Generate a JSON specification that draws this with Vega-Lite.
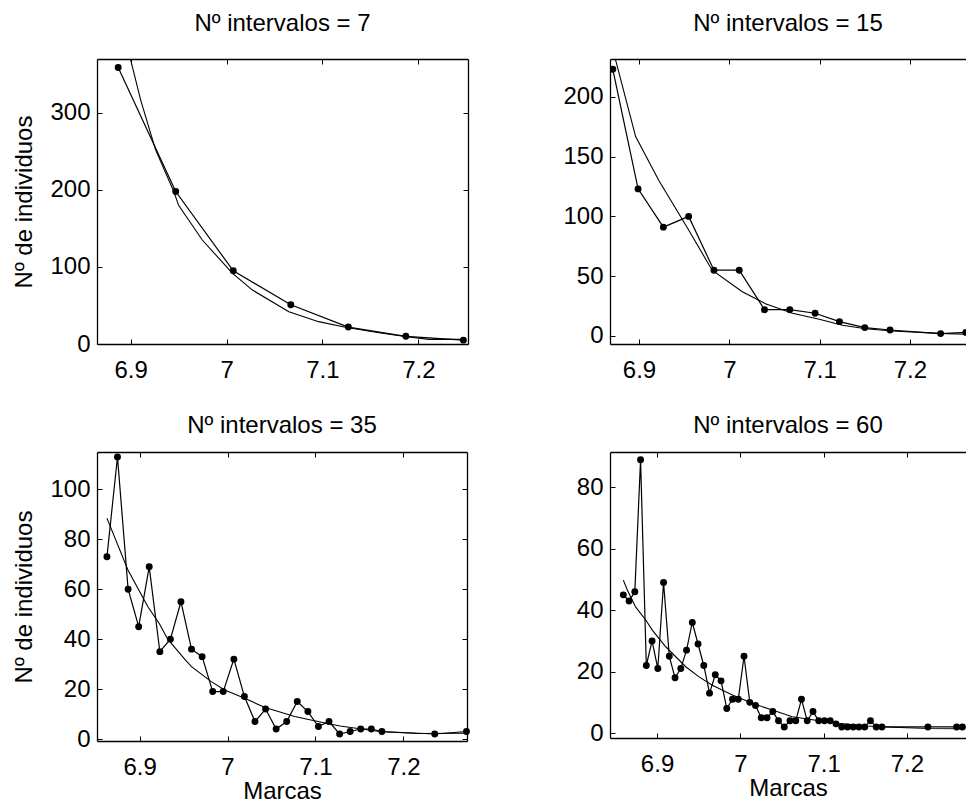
{
  "$schema": "https://vega.github.io/schema/vega-lite/v6.json",
  "padding": {"left": 12, "top": 11, "right": 0, "bottom": 0},
  "background": "white",
  "config": {
    "font": "Liberation Sans",
    "view": {"stroke": null},
    "axis": {
      "grid": false,
      "domainColor": "black",
      "domainWidth": 1.3,
      "tickColor": "black",
      "tickWidth": 1,
      "tickSize": -5,
      "labelFont": "Liberation Sans",
      "labelFontSize": 24,
      "labelColor": "black",
      "labelFlush": false,
      "labelOverlap": false,
      "titleFont": "Liberation Sans",
      "titleFontSize": 24,
      "titleFontWeight": "normal",
      "titleColor": "black"
    },
    "title": {"font": "Liberation Sans", "fontSize": 24, "fontWeight": "normal", "color": "black", "baseline": "alphabetic", "anchor": "middle"}
  },
  "datasets": {
    "p1": [
      {"x": 6.887, "y": 359}, {"x": 6.947, "y": 198}, {"x": 7.007, "y": 95}, {"x": 7.067, "y": 51},
      {"x": 7.127, "y": 22}, {"x": 7.187, "y": 10}, {"x": 7.247, "y": 5}
    ],
    "f1": [
      {"x": 6.9, "y": 369}, {"x": 6.9104, "y": 317}, {"x": 6.926, "y": 252}, {"x": 6.945, "y": 198},
      {"x": 6.95, "y": 180}, {"x": 6.9747, "y": 135}, {"x": 7.006, "y": 92}, {"x": 7.027, "y": 70},
      {"x": 7.065, "y": 42}, {"x": 7.096, "y": 29}, {"x": 7.124, "y": 21.7}, {"x": 7.159, "y": 14.7},
      {"x": 7.188, "y": 9.5}, {"x": 7.211, "y": 6}, {"x": 7.247, "y": 6}
    ],
    "p2": [
      {"x": 6.871, "y": 223}, {"x": 6.899, "y": 123}, {"x": 6.927, "y": 91}, {"x": 6.955, "y": 100},
      {"x": 6.983, "y": 55}, {"x": 7.011, "y": 55}, {"x": 7.039, "y": 22}, {"x": 7.067, "y": 22},
      {"x": 7.095, "y": 19}, {"x": 7.122, "y": 12}, {"x": 7.15, "y": 7}, {"x": 7.178, "y": 5},
      {"x": 7.234, "y": 2}, {"x": 7.262, "y": 3}
    ],
    "f2": [
      {"x": 6.874, "y": 231}, {"x": 6.8963, "y": 166.7}, {"x": 6.922, "y": 130}, {"x": 6.955, "y": 88.6},
      {"x": 6.981, "y": 55}, {"x": 7.0144, "y": 37}, {"x": 7.04, "y": 27}, {"x": 7.07, "y": 19},
      {"x": 7.0996, "y": 14}, {"x": 7.1254, "y": 9}, {"x": 7.151, "y": 6}, {"x": 7.1805, "y": 4.2},
      {"x": 7.232, "y": 2.2}, {"x": 7.261, "y": 1.4}
    ],
    "p3": [
      {"x": 6.8628, "y": 73}, {"x": 6.8748, "y": 113}, {"x": 6.8869, "y": 60}, {"x": 6.8989, "y": 45},
      {"x": 6.9109, "y": 69}, {"x": 6.923, "y": 35}, {"x": 6.935, "y": 40}, {"x": 6.947, "y": 55},
      {"x": 6.959, "y": 36}, {"x": 6.9711, "y": 33}, {"x": 6.9831, "y": 19}, {"x": 6.9951, "y": 19},
      {"x": 7.0072, "y": 32}, {"x": 7.0192, "y": 17}, {"x": 7.0312, "y": 7}, {"x": 7.0433, "y": 12},
      {"x": 7.0553, "y": 4}, {"x": 7.0673, "y": 7}, {"x": 7.0793, "y": 15}, {"x": 7.0914, "y": 11},
      {"x": 7.1034, "y": 5}, {"x": 7.1154, "y": 7}, {"x": 7.1275, "y": 2}, {"x": 7.1395, "y": 3},
      {"x": 7.1515, "y": 4}, {"x": 7.1636, "y": 4}, {"x": 7.1756, "y": 3}, {"x": 7.2357, "y": 2},
      {"x": 7.2718, "y": 3}
    ],
    "f3": [
      {"x": 6.8628, "y": 88.5}, {"x": 6.8867, "y": 67.7}, {"x": 6.9094, "y": 53}, {"x": 6.9228, "y": 46},
      {"x": 6.932, "y": 40}, {"x": 6.9512, "y": 32}, {"x": 6.959, "y": 29}, {"x": 6.9815, "y": 23},
      {"x": 6.9967, "y": 19.6}, {"x": 7.0195, "y": 16.3}, {"x": 7.042, "y": 12.7}, {"x": 7.0763, "y": 9},
      {"x": 7.1028, "y": 7}, {"x": 7.128, "y": 5.2}, {"x": 7.1749, "y": 2.9}, {"x": 7.2166, "y": 2.2},
      {"x": 7.2697, "y": 2.3}
    ],
    "p4": [
      {"x": 6.8595, "y": 45}, {"x": 6.8664, "y": 43}, {"x": 6.8733, "y": 46}, {"x": 6.8802, "y": 89},
      {"x": 6.8871, "y": 22}, {"x": 6.894, "y": 30}, {"x": 6.9009, "y": 21}, {"x": 6.9078, "y": 49},
      {"x": 6.9147, "y": 25}, {"x": 6.9216, "y": 18}, {"x": 6.9285, "y": 21}, {"x": 6.9354, "y": 27},
      {"x": 6.9423, "y": 36}, {"x": 6.9492, "y": 29}, {"x": 6.9561, "y": 22}, {"x": 6.963, "y": 13},
      {"x": 6.9699, "y": 19}, {"x": 6.9768, "y": 17}, {"x": 6.9837, "y": 8}, {"x": 6.9906, "y": 11},
      {"x": 6.9975, "y": 11}, {"x": 7.0044, "y": 25}, {"x": 7.0113, "y": 10}, {"x": 7.0182, "y": 9},
      {"x": 7.0251, "y": 5}, {"x": 7.032, "y": 5}, {"x": 7.0389, "y": 7}, {"x": 7.0458, "y": 4},
      {"x": 7.0527, "y": 2}, {"x": 7.0596, "y": 4}, {"x": 7.0665, "y": 4}, {"x": 7.0734, "y": 11},
      {"x": 7.0803, "y": 4}, {"x": 7.0872, "y": 7}, {"x": 7.0941, "y": 4}, {"x": 7.101, "y": 4},
      {"x": 7.1079, "y": 4}, {"x": 7.1148, "y": 3}, {"x": 7.1217, "y": 2}, {"x": 7.1286, "y": 2},
      {"x": 7.1355, "y": 2}, {"x": 7.1424, "y": 2}, {"x": 7.1493, "y": 2}, {"x": 7.1562, "y": 4},
      {"x": 7.1631, "y": 2}, {"x": 7.17, "y": 2}, {"x": 7.2252, "y": 2}, {"x": 7.2597, "y": 2},
      {"x": 7.2666, "y": 2}
    ],
    "f4": [
      {"x": 6.8595, "y": 49.8}, {"x": 6.8643, "y": 46.6}, {"x": 6.8744, "y": 41}, {"x": 6.8864, "y": 36.8},
      {"x": 6.8943, "y": 33.5}, {"x": 6.9104, "y": 28.1}, {"x": 6.9344, "y": 21.6}, {"x": 6.9504, "y": 18.3},
      {"x": 6.9663, "y": 15.6}, {"x": 6.9904, "y": 12.4}, {"x": 7.0144, "y": 9.7}, {"x": 7.0384, "y": 7.5},
      {"x": 7.0624, "y": 5.3}, {"x": 7.0905, "y": 4.2}, {"x": 7.1184, "y": 3.2}, {"x": 7.1505, "y": 2.3},
      {"x": 7.1824, "y": 1.9}, {"x": 7.2265, "y": 1.5}, {"x": 7.2665, "y": 1.4}
    ]
  },
  "columns": 2,
  "spacing": {"row": 104, "column": 142},
  "bounds": "flush",
  "align": "all",
  "concat": [
    {
      "width": 371, "height": 285,
      "title": {"text": "Nº intervalos = 7", "offset": 23},
      "resolve": {"scale": {"x": "independent", "y": "independent"}, "axis": {"x": "independent", "y": "independent"}},
      "layer": [
        {
          "data": {"name": "p1"},
          "mark": {"type": "line", "color": "black", "strokeWidth": 1.2, "point": {"filled": true, "color": "black", "size": 48, "opacity": 1}},
          "encoding": {
            "x": {"field": "x", "type": "quantitative", "scale": {"domain": [6.8649, 7.2518], "nice": false, "zero": false},
                  "axis": {"orient": "bottom", "values": [6.9, 7, 7.1, 7.2], "format": "~g", "labelPadding": 19, "title": null}},
            "y": {"field": "y", "type": "quantitative", "scale": {"domain": [0, 370], "nice": false, "zero": false},
                  "axis": {"orient": "left", "values": [0, 100, 200, 300], "labelPadding": 12, "title": "Nº de individuos", "titlePadding": 13}}
          }
        },
        {
          "data": {"name": "f1"},
          "mark": {"type": "line", "color": "black", "strokeWidth": 1.1, "clip": true},
          "encoding": {
            "x": {"field": "x", "type": "quantitative", "scale": {"domain": [6.8649, 7.2518], "nice": false, "zero": false},
                  "axis": {"orient": "top", "values": [6.9, 7, 7.1, 7.2], "labels": false, "title": null}},
            "y": {"field": "y", "type": "quantitative", "scale": {"domain": [0, 370], "nice": false, "zero": false},
                  "axis": {"orient": "right", "values": [0, 100, 200, 300], "labels": false, "title": null}}
          }
        }
      ]
    },
    {
      "width": 356, "height": 285,
      "title": {"text": "Nº intervalos = 15", "offset": 23},
      "resolve": {"scale": {"x": "independent", "y": "independent"}, "axis": {"x": "independent", "y": "independent"}},
      "layer": [
        {
          "data": {"name": "p2"},
          "mark": {"type": "line", "color": "black", "strokeWidth": 1.2, "clip": true, "point": {"filled": true, "color": "black", "size": 48, "opacity": 1}},
          "encoding": {
            "x": {"field": "x", "type": "quantitative", "scale": {"domain": [6.8679, 7.2621], "nice": false, "zero": false},
                  "axis": {"orient": "bottom", "values": [6.9, 7, 7.1, 7.2], "format": "~g", "labelPadding": 19, "title": null}},
            "y": {"field": "y", "type": "quantitative", "scale": {"domain": [-6.7, 231.6], "nice": false, "zero": false},
                  "axis": {"orient": "left", "values": [0, 50, 100, 150, 200], "labelPadding": 12, "title": null}}
          }
        },
        {
          "data": {"name": "f2"},
          "mark": {"type": "line", "color": "black", "strokeWidth": 1.1, "clip": true},
          "encoding": {
            "x": {"field": "x", "type": "quantitative", "scale": {"domain": [6.8679, 7.2621], "nice": false, "zero": false},
                  "axis": {"orient": "top", "values": [6.9, 7, 7.1, 7.2], "labels": false, "title": null}},
            "y": {"field": "y", "type": "quantitative", "scale": {"domain": [-6.7, 231.6], "nice": false, "zero": false}, "axis": null}
          }
        }
      ]
    },
    {
      "width": 370, "height": 289,
      "title": {"text": "Nº intervalos = 35", "offset": 14},
      "resolve": {"scale": {"x": "independent", "y": "independent"}, "axis": {"x": "independent", "y": "independent"}},
      "layer": [
        {
          "data": {"name": "p3"},
          "mark": {"type": "line", "color": "black", "strokeWidth": 1.2, "point": {"filled": true, "color": "black", "size": 48, "opacity": 1}},
          "encoding": {
            "x": {"field": "x", "type": "quantitative", "scale": {"domain": [6.8515, 7.2724], "nice": false, "zero": false},
                  "axis": {"orient": "bottom", "values": [6.9, 7, 7.1, 7.2], "format": "~g", "labelPadding": 19, "title": "Marcas", "titlePadding": 0}},
            "y": {"field": "y", "type": "quantitative", "scale": {"domain": [-0.8, 115], "nice": false, "zero": false},
                  "axis": {"orient": "left", "values": [0, 20, 40, 60, 80, 100], "labelPadding": 12, "title": "Nº de individuos", "titlePadding": 13}}
          }
        },
        {
          "data": {"name": "f3"},
          "mark": {"type": "line", "color": "black", "strokeWidth": 1.1, "clip": true},
          "encoding": {
            "x": {"field": "x", "type": "quantitative", "scale": {"domain": [6.8515, 7.2724], "nice": false, "zero": false},
                  "axis": {"orient": "top", "values": [6.9, 7, 7.1, 7.2], "labels": false, "title": null}},
            "y": {"field": "y", "type": "quantitative", "scale": {"domain": [-0.8, 115], "nice": false, "zero": false},
                  "axis": {"orient": "right", "values": [0, 20, 40, 60, 80, 100], "labels": false, "title": null}}
          }
        }
      ]
    },
    {
      "width": 356, "height": 286,
      "title": {"text": "Nº intervalos = 60", "offset": 14},
      "resolve": {"scale": {"x": "independent", "y": "independent"}, "axis": {"x": "independent", "y": "independent"}},
      "layer": [
        {
          "data": {"name": "p4"},
          "mark": {"type": "line", "color": "black", "strokeWidth": 1.2, "clip": true, "point": {"filled": true, "color": "black", "size": 48, "opacity": 1}},
          "encoding": {
            "x": {"field": "x", "type": "quantitative", "scale": {"domain": [6.8435, 7.2709], "nice": false, "zero": false},
                  "axis": {"orient": "bottom", "values": [6.9, 7, 7.1, 7.2], "format": "~g", "labelPadding": 19, "title": "Marcas", "titlePadding": 0}},
            "y": {"field": "y", "type": "quantitative", "scale": {"domain": [-1.6, 91.5], "nice": false, "zero": false},
                  "axis": {"orient": "left", "values": [0, 20, 40, 60, 80], "labelPadding": 12, "title": null}}
          }
        },
        {
          "data": {"name": "f4"},
          "mark": {"type": "line", "color": "black", "strokeWidth": 1.1, "clip": true},
          "encoding": {
            "x": {"field": "x", "type": "quantitative", "scale": {"domain": [6.8435, 7.2709], "nice": false, "zero": false},
                  "axis": {"orient": "top", "values": [6.9, 7, 7.1, 7.2], "labels": false, "title": null}},
            "y": {"field": "y", "type": "quantitative", "scale": {"domain": [-1.6, 91.5], "nice": false, "zero": false}, "axis": null}
          }
        }
      ]
    }
  ]
}
